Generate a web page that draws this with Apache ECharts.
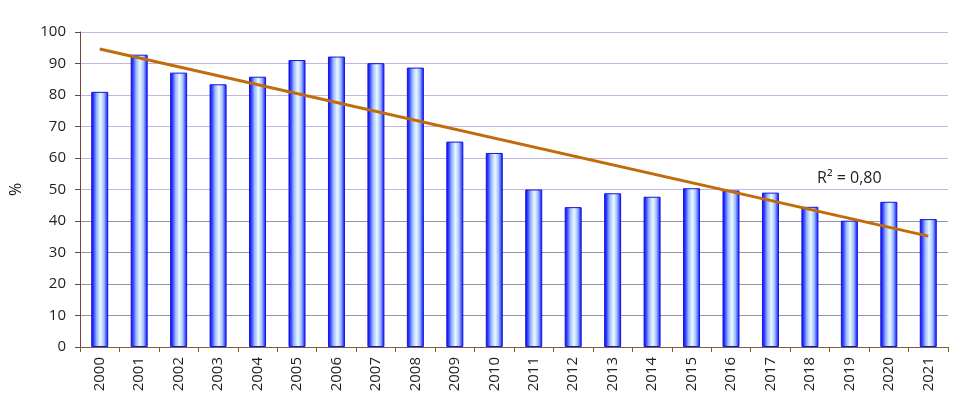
<!DOCTYPE html>
<html>
<head>
<meta charset="utf-8">
<script src="https://cdn.jsdelivr.net/npm/echarts@6/dist/echarts.min.js"></script>
<style>html,body{margin:0;padding:0;background:#fff}#c{width:975px;height:411px}</style>
</head>
<body>
<div id="c"></div>
<script>
const categories = ['2000','2001','2002','2003','2004','2005','2006','2007','2008','2009','2010','2011','2012','2013','2014','2015','2016','2017','2018','2019','2020','2021'];
const values = [81, 92.8, 87.1, 83.4, 85.8, 91.1, 92.2, 90.1, 88.7, 65.2, 61.6, 50, 44.4, 48.8, 47.7, 50.4, 49.7, 49, 44.5, 40.1, 46.1, 40.6];
const trendStart = ['2000', 94.6];
const trendEnd = ['2021', 35.2];
const r2Label = 'R² = 0,80';
const r2Anchor = ['2019', 53.5];
const yTicks = [0, 10, 20, 30, 40, 50, 60, 70, 80, 90, 100];

const FONT = 'Open Sans';
const chart = echarts.init(document.getElementById('c'), null, {renderer: 'canvas'});
chart.setOption({
  animation: false,
  backgroundColor: '#ffffff',
  grid: {left: 73, right: 27, top: 32, bottom: 64, containLabel: false},
  xAxis: {
    type: 'category',
    data: categories,
    boundaryGap: true,
    axisLine: {lineStyle: {color: '#806030', width: 1}},
    axisTick: {show: true, length: 5, lineStyle: {color: '#806030'}},
    axisLabel: {rotate: 90, margin: 10, color: '#1e1e1e', fontFamily: FONT, fontSize: 15, interval: 0}
  },
  yAxis: {
    type: 'value',
    min: yTicks[0],
    max: yTicks[yTicks.length - 1],
    interval: 10,
    name: '%',
    nameLocation: 'middle',
    nameRotate: 90,
    nameGap: 56,
    nameTextStyle: {color: '#1e1e1e', fontFamily: FONT, fontSize: 16},
    axisLine: {show: true, lineStyle: {color: '#804040', width: 1}},
    axisTick: {show: true, length: 5, lineStyle: {color: '#804040'}},
    axisLabel: {margin: 14, color: '#1e1e1e', fontFamily: FONT, fontSize: 15},
    splitLine: {show: true, lineStyle: {width: 1, color: ['#9494ae','#9494ae','#9494ae','#9494ae','#9494ae','#c8b4e0','#c8b4e0','#c8b4e0','#c8b4e0','#c8b4e0','#c8b4e0']}}
  },
  series: [{
    type: 'bar',
    data: values,
    barWidth: 17,
    itemStyle: {
      borderColor: '#1414e0',
      borderWidth: 1,
      color: new echarts.graphic.LinearGradient(0, 0, 1, 0, [
        {offset: 0, color: '#0a0ae0'},
        {offset: 0.14, color: '#3040ff'},
        {offset: 0.32, color: '#9cb8ff'},
        {offset: 0.55, color: '#eafaff'},
        {offset: 0.75, color: '#a4c0ff'},
        {offset: 0.9, color: '#4050ff'},
        {offset: 1, color: '#0a0ae0'}
      ])
    },
    markLine: {
      silent: true,
      symbol: ['none', 'none'],
      label: {show: false},
      lineStyle: {color: '#c06c0c', width: 3, type: 'solid'},
      data: [[{coord: trendStart}, {coord: trendEnd}]]
    },
    markPoint: {
      silent: true,
      symbol: 'rect',
      symbolSize: 0,
      label: {show: true, position: 'inside', formatter: r2Label, color: '#1e1e1e', fontFamily: FONT, fontSize: 16},
      data: [{coord: r2Anchor}]
    }
  }]
});
</script>
</body>
</html>
